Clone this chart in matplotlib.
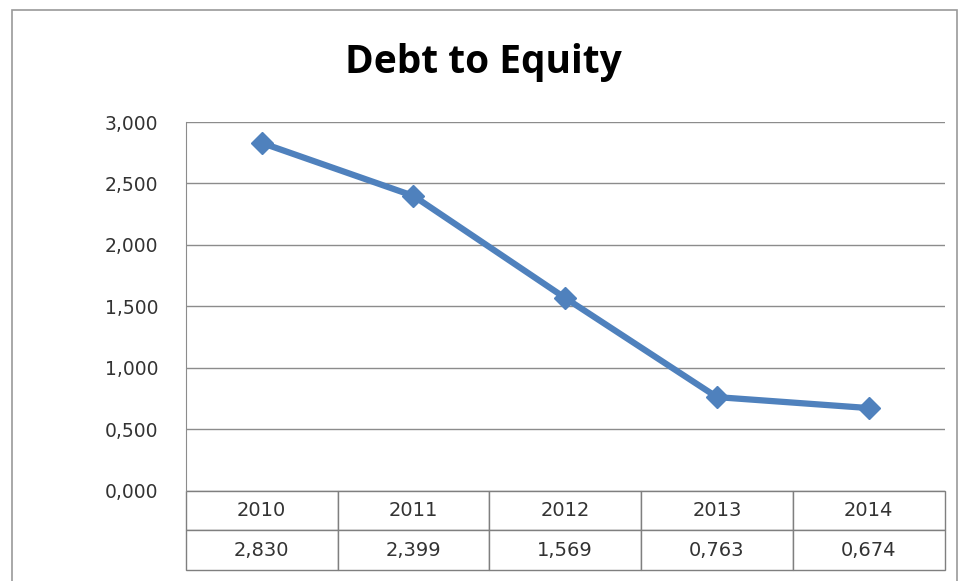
import matplotlib.pyplot as plt
from matplotlib.patches import Rectangle

# Données
years = ['2010', '2011', '2012', '2013', '2014']
ratio = [2.830, 2.399, 1.569, 0.763, 0.674]
ratio_labels = ['2,830', '2,399', '1,569', '0,763', '0,674']
y_ticks = [0, 0.5, 1.0, 1.5, 2.0, 2.5, 3.0]

fig = plt.figure(figsize=(9.58, 5.81), dpi=100)
ax = fig.add_axes([0.194, 0.155, 0.792, 0.635])

# cadre extérieur
fig.patches.append(Rectangle((0.0125, -0.01), 0.986, 0.993, transform=fig.transFigure,
                             fill=False, edgecolor='#9a9a9a', linewidth=1.2))

x = list(range(len(years)))
ax.plot(x, ratio, color='#4F81BD', linewidth=4.5, marker='D', markersize=11,
        markeredgecolor='#4F81BD', zorder=3)

ax.set_xlim(-0.5, len(years) - 0.5)
ax.set_ylim(0, 3)
ax.set_yticks(y_ticks)
ax.set_yticklabels(['{:.3f}'.format(v).replace('.', ',') for v in y_ticks],
                   fontsize=13.5, color='#333333')
ax.tick_params(axis='y', length=0, pad=20)
ax.set_xticks([])
ax.grid(axis='y', color='#8c8c8c', linewidth=1)
for s in ['top', 'right', 'bottom']:
    ax.spines[s].set_visible(False)
ax.spines['left'].set_color('#8c8c8c')

# tableau de données
tbl = ax.table(cellText=[years, ratio_labels], cellLoc='center',
               bbox=[0, -79 / 369, 1, 79 / 369])
tbl.auto_set_font_size(False)
tbl.set_fontsize(14)
for cell in tbl.get_celld().values():
    cell.set_edgecolor('#7f7f7f')
    cell.get_text().set_color('#333333')

fig.text(0.505, 0.892, 'Debt to Equity', ha='center', va='center',
         fontsize=28, fontweight='bold', family='Open Sans')

plt.savefig('out.png', dpi=100)
